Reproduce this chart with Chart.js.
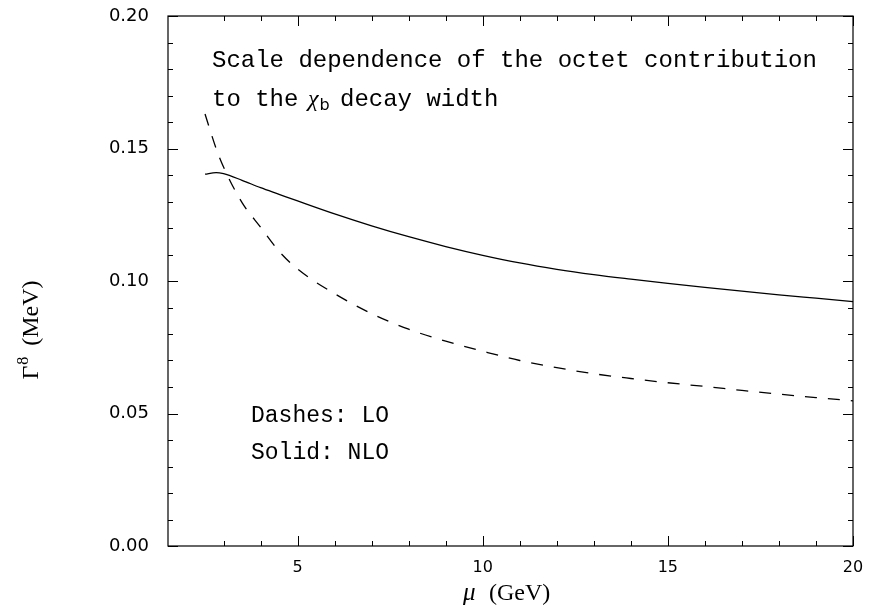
<!DOCTYPE html>
<html>
<head>
<meta charset="utf-8">
<script src="https://cdn.jsdelivr.net/npm/chart.js@4.4.1/dist/chart.umd.min.js"></script>
<style>
  html, body { margin: 0; padding: 0; background: #fff; }
  #wrap { width: 869px; height: 613px; }
</style>
</head>
<body>
<div id="wrap"><canvas id="octetChart" width="869" height="613"></canvas></div>
<script>
// mu (GeV) and the octet width Gamma^8 (MeV)
var muValues = [2.5, 2.8, 3.0, 3.5, 4, 4.5, 5, 6, 7, 8, 9, 10, 11, 12, 13, 14, 15, 16, 17, 18, 19, 20];
var nloWidth = [0.1403, 0.1409, 0.1405, 0.1380, 0.1352, 0.1327, 0.1302, 0.1253, 0.1208, 0.1167, 0.1130, 0.1097,
                0.1068, 0.1044, 0.1024, 0.1007, 0.0991, 0.0976, 0.0962, 0.0948, 0.0935, 0.0922];
var loWidth = [0.1630, 0.1500, 0.1430, 0.1296, 0.1203, 0.1112, 0.1045, 0.0952, 0.0877, 0.0818, 0.0773, 0.0735,
               0.0700, 0.0673, 0.0650, 0.0632, 0.0616, 0.0602, 0.0587, 0.0573, 0.0560, 0.0548];
var xMajorTicks = [5, 10, 15, 20];
var yMajorTicks = ['0.00', '0.05', '0.10', '0.15', '0.20'];

function toPoints(ys) {
    return muValues.map(function (m, i) { return {x: m, y: ys[i]}; });
}

function isMajorY(v) {
    var h = Math.round(v * 100);
    return Math.abs(v * 100 - h) < 1e-6 && yMajorTicks.indexOf(v.toFixed(2)) >= 0 && h % 5 === 0;
}

var mono = '"Liberation Mono", monospace';
var serif = '"Liberation Serif", serif';
var sans = '"DejaVu Sans", sans-serif';

// frame with inward ticks on all four sides
var frameTicks = {
    id: 'frameTicks',
    afterDatasetsDraw: function (chart) {
        var ctx = chart.ctx, a = chart.chartArea;
        var xs = chart.scales.x, ys = chart.scales.y;
        ctx.save();
        ctx.strokeStyle = '#000';
        ctx.lineWidth = 1.2;
        ctx.strokeRect(a.left, a.top, a.right - a.left, a.bottom - a.top);
        ctx.lineWidth = 1;
        ctx.beginPath();
        xs.ticks.forEach(function (t) {
            if (Math.abs(t.value - Math.round(t.value)) > 1e-6) return;
            var px = Math.round(xs.getPixelForValue(t.value)) + 0.5;
            var len = xMajorTicks.indexOf(t.value) >= 0 ? 10 : 5;
            ctx.moveTo(px, a.bottom); ctx.lineTo(px, a.bottom - len);
            ctx.moveTo(px, a.top); ctx.lineTo(px, a.top + len);
        });
        ys.ticks.forEach(function (t) {
            var py = Math.round(ys.getPixelForValue(t.value)) + 0.5;
            var len = isMajorY(t.value) ? 10 : 5;
            ctx.moveTo(a.left, py); ctx.lineTo(a.left + len, py);
            ctx.moveTo(a.right, py); ctx.lineTo(a.right - len, py);
        });
        ctx.stroke();
        ctx.restore();
    },
    afterDraw: function (chart) {
        var ctx = chart.ctx;
        ctx.save();
        ctx.fillStyle = '#000';
        ctx.textBaseline = 'alphabetic';
        ctx.textAlign = 'left';

        // caption inside the frame
        ctx.font = '24px ' + mono;
        ctx.fillText('Scale dependence of the octet contribution', 212, 67);
        ctx.fillText('to the', 212, 106);
        ctx.font = 'italic 24px ' + serif;
        ctx.fillText('\u03C7', 308, 106);
        var x = 308 + ctx.measureText('\u03C7').width + 1;
        ctx.font = '16px ' + sans;
        ctx.fillText('b', x, 110);
        ctx.font = '24px ' + mono;
        ctx.fillText('decay width', 340, 106);

        // line key
        ctx.font = '23px ' + mono;
        ctx.fillText('Dashes: LO', 251, 422);
        ctx.fillText('Solid: NLO', 251, 459);

        // x axis title
        ctx.font = 'italic 25px ' + serif;
        ctx.fillText('\u03BC', 463, 600);
        ctx.font = '24px ' + serif;
        ctx.fillText('(GeV)', 489, 600);

        // y axis title, rotated
        ctx.translate(38, 330);
        ctx.rotate(-Math.PI / 2);
        ctx.font = '24px ' + serif;
        var g = '\u0393', tail = '(MeV)';
        var wg = ctx.measureText(g).width;
        var wt = ctx.measureText(tail).width;
        ctx.font = '16px ' + serif;
        var ws = ctx.measureText('8').width;
        var gap = 12;
        var start = -(wg + ws + gap + wt) / 2;
        ctx.font = '24px ' + serif;
        ctx.fillText(g, start, 0);
        ctx.font = '16px ' + serif;
        ctx.fillText('8', start + wg + 1, -10);
        ctx.font = '24px ' + serif;
        ctx.fillText(tail, start + wg + ws + gap, 0);
        ctx.restore();
    }
};

var ctx = document.getElementById('octetChart').getContext('2d');
var octetChart = new Chart(ctx, {
    type: 'line',
    data: {
        datasets: [{
            label: 'NLO',
            data: toPoints(nloWidth),
            borderColor: '#000',
            borderWidth: 1.3,
            pointRadius: 0,
            fill: false,
            cubicInterpolationMode: 'monotone'
        }, {
            label: 'LO',
            data: toPoints(loWidth),
            borderColor: '#000',
            borderWidth: 1.3,
            borderDash: [12, 11],
            pointRadius: 0,
            fill: false,
            cubicInterpolationMode: 'monotone'
        }]
    },
    options: {
        responsive: false,
        animation: false,
        layout: { padding: { top: 16, right: 16, left: 0, bottom: 0 } },
        plugins: {
            legend: { display: false },
            tooltip: { enabled: false }
        },
        scales: {
            x: {
                type: 'linear',
                min: 1.5,
                max: 20,
                afterFit: function (scale) {
                    scale.height = 67;
                    scale.paddingLeft = 0;
                    scale.paddingRight = 0;
                },
                grid: { display: false, drawTicks: false },
                border: { display: false },
                ticks: {
                    stepSize: 1,
                    autoSkip: false,
                    maxRotation: 0,
                    padding: 12,
                    color: '#000',
                    font: { family: sans, size: 16 },
                    callback: function (v) { return xMajorTicks.indexOf(v) >= 0 ? String(v) : ''; }
                }
            },
            y: {
                min: 0,
                max: 0.2,
                afterFit: function (scale) {
                    scale.width = 168;
                    scale.paddingTop = 0;
                    scale.paddingBottom = 0;
                },
                grid: { display: false, drawTicks: false },
                border: { display: false },
                ticks: {
                    stepSize: 0.01,
                    autoSkip: false,
                    padding: 19,
                    color: '#000',
                    font: { family: sans, size: 18 },
                    callback: function (v) { return isMajorY(v) ? v.toFixed(2) : ''; }
                }
            }
        }
    },
    plugins: [frameTicks]
});
</script>
</body>
</html>
